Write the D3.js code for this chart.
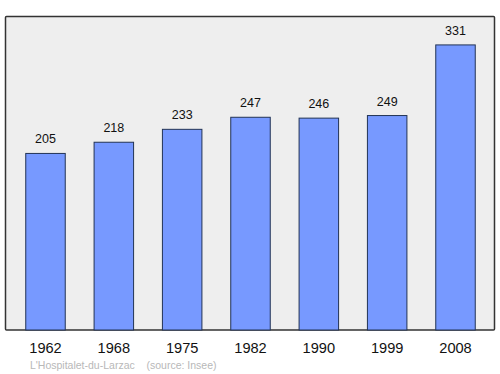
<!DOCTYPE html>
<html><head><meta charset="utf-8">
<script src="https://cdn.jsdelivr.net/npm/d3@7"></script>
<style>body{margin:0;background:#fff}svg{display:block}</style>
</head><body>
<svg id="c" width="500" height="374"></svg>
<script>
const years = ["1962","1968","1975","1982","1990","1999","2008"];
const population = [205,218,233,247,246,249,331];
const commune = "L'Hospitalet-du-Larzac";
const source = "(source: Insee)";

(function () {
const svg = d3.select("#c");
const L = 5.5, R = 494.5, T = 16.5, B = 330;
const font = "Liberation Sans, Arial, sans-serif";
const x = d3.scaleBand().domain(years).range([L + 0.5, R + 0.5]).paddingInner(0.422).paddingOuter(0.289);
const y = d3.scaleLinear().domain([0, 364]).range([B, T]);

svg.append("rect").attr("x", L).attr("y", T).attr("width", R - L).attr("height", B - T)
  .attr("fill", "#eeeeee").attr("stroke", "#333").attr("stroke-width", 1.5).attr("rx", 1);

const data = years.map((yr, i) => ({yr, v: population[i]}));
svg.selectAll("rect.bar").data(data).join("rect").attr("class", "bar")
  .attr("x", d => x(d.yr)).attr("width", x.bandwidth())
  .attr("y", d => y(d.v)).attr("height", d => B - y(d.v))
  .attr("fill", "#7799ff").attr("stroke", "#223355").attr("stroke-width", 1);

svg.selectAll("text.val").data(data).join("text").attr("class", "val")
  .attr("x", d => x(d.yr) + x.bandwidth() / 2).attr("y", d => y(d.v) - 10)
  .attr("text-anchor", "middle").attr("font-family", font)
  .attr("font-size", 12.5).attr("fill", "#111").text(d => d.v);

const axis = d3.axisBottom(x).tickSize(0).tickPadding(0);
const g = svg.append("g").attr("transform", `translate(0,${B})`).call(axis);
g.select(".domain").remove();
g.selectAll("text").attr("y", 22.6).attr("dy", 0).attr("font-family", font)
  .attr("font-size", 14.6).attr("fill", "#111");

svg.append("text").attr("x", 30).attr("y", 369).attr("font-family", font)
  .attr("font-size", 10.5).attr("fill", "#b8b8b8").text(commune);
svg.append("text").attr("x", 146.5).attr("y", 369).attr("font-family", font)
  .attr("font-size", 10.5).attr("fill", "#b8b8b8").text(source);
})();
</script>
</body></html>
